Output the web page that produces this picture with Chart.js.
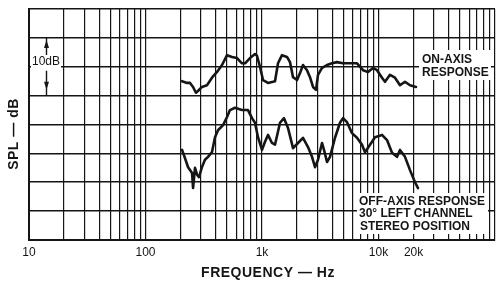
<!DOCTYPE html>
<html>
<head>
<meta charset="utf-8">
<script src="https://cdn.jsdelivr.net/npm/chart.js@4/dist/chart.umd.min.js"></script>
<style>
  html, body { margin: 0; padding: 0; background: #fff; }
  canvas { display: block; }
</style>
</head>
<body>
<canvas id="splChart" width="503" height="290"></canvas>
<script>
// levels in dB above the bottom gridline (5 dB per division, 8 divisions)
const onAxisFreq = [206, 227, 241, 256, 271, 282, 305, 337, 372, 411, 454, 501, 553, 610, 673, 715, 789, 871, 906, 961,
  1020, 1126, 1243, 1293, 1372, 1485, 1639, 1739, 1846, 1998, 2120, 2249, 2434, 2582, 2741, 2908, 3025, 3274, 3614, 3989,
  4404, 4959, 5693, 6538, 7362, 8126, 8970, 9707, 10716, 11370, 12550, 13855, 15295, 16883, 18637, 20983];
const onAxisDb = [27.5, 27.2, 27.2, 26.5, 25.5, 25.8, 26.5, 26.8, 28.1, 29.1, 30.3, 32.0, 31.7, 31.5, 30.6, 30.6, 31.5, 32.2, 31.9, 30.0,
  27.7, 27.2, 27.4, 27.5, 30.6, 32.0, 31.7, 30.8, 28.2, 27.7, 28.9, 30.3, 29.4, 28.2, 26.5, 26.0, 28.6, 29.8, 30.3, 30.6,
  30.8, 30.6, 30.6, 30.6, 29.4, 29.1, 29.8, 29.4, 28.1, 27.4, 28.6, 28.1, 26.8, 27.4, 26.8, 26.5];

const offAxisFreq = [206, 218, 232, 251, 256, 266, 277, 288, 305, 324, 344, 372, 395, 419, 463, 501, 531, 586, 673, 758,
  821, 871, 924, 1000, 1061, 1126, 1218, 1293, 1427, 1545, 1672, 1846, 2037, 2249, 2482, 2687, 2851, 3025, 3274, 3406,
  3614, 3835, 4233, 4672, 4959, 5365, 5922, 6538, 7219, 7659, 8453, 9333, 10716, 11833, 13062, 14418, 15295, 16883, 18637, 20573,
  21837];
const offAxisDb = [15.6, 14.2, 12.6, 11.6, 9.0, 12.5, 11.3, 10.9, 12.6, 13.9, 14.4, 15.2, 17.8, 19.0, 19.9, 21.3, 22.5, 22.9, 22.5, 22.5,
  21.1, 20.3, 17.8, 15.6, 17.0, 18.2, 16.8, 16.5, 20.3, 21.1, 19.4, 15.9, 16.8, 17.7, 16.1, 14.4, 12.6, 13.9, 16.8, 15.6,
  13.5, 14.4, 17.7, 20.3, 21.1, 20.4, 18.5, 17.7, 16.5, 15.2, 16.5, 17.8, 18.2, 17.3, 15.1, 14.4, 15.6, 14.4, 12.1, 10.0,
  9.0];

// log paper: lines at 1..9 x each decade, 10 Hz to 100 kHz
const decades = [10, 100, 1000, 10000];
const decadeSteps = [1, 2, 3, 4, 5, 6, 7, 8, 9];
const labelFreqs = [10, 100, 1000, 10000, 20000];
const labelTexts = ['10', '100', '1k', '10k', '20k'];

const gridFreqs = [];
decades.forEach(d => decadeSteps.forEach(s => gridFreqs.push(d * s)));
gridFreqs.push(100000);

function toPoints(xs, ys) {
  return xs.map((x, i) => ({ x: x, y: ys[i] }));
}

const INK = '#151515';

// labels, 10 dB marker and axis titles
const notesPlugin = {
  id: 'notes',
  beforeDatasetsDraw(chart) {
    const c = chart.ctx;
    c.save();
    c.fillStyle = '#fff';
    c.fillRect(31, 56, 30, 12);
    c.fillRect(419, 50, 72, 30);
    c.fillRect(357, 193, 131, 41);
    c.restore();
  },
  afterDraw(chart) {
    const c = chart.ctx;
    const xs = chart.scales.x, ys = chart.scales.y;
    c.save();
    c.fillStyle = INK;
    c.strokeStyle = INK;

    // 10 dB dimension arrow
    const ax = Math.round(xs.getPixelForValue(14)) + 0.5;
    const yTop = ys.getPixelForValue(35), yBot = ys.getPixelForValue(25);
    c.lineWidth = 1.4;
    c.beginPath();
    c.moveTo(ax, yTop); c.lineTo(ax, yTop + 17);
    c.moveTo(ax, yBot - 25); c.lineTo(ax, yBot);
    c.stroke();
    c.beginPath();
    c.moveTo(ax, yTop + 2); c.lineTo(ax - 2.5, yTop + 10); c.lineTo(ax + 2.5, yTop + 10); c.closePath();
    c.moveTo(ax, yBot - 6); c.lineTo(ax - 2.5, yBot - 14); c.lineTo(ax + 2.5, yBot - 14); c.closePath();
    c.fill();

    c.font = '12px "Liberation Sans", Arial, sans-serif';
    c.textAlign = 'center';
    c.textBaseline = 'middle';
    c.fillText('10dB', 46, 62);

    c.font = 'bold 12px "Liberation Sans", Arial, sans-serif';
    c.textAlign = 'left';
    c.fillText('ON-AXIS', 422, 60);
    c.fillText('RESPONSE', 422, 73);
    c.fillText('OFF-AXIS RESPONSE', 359, 202);
    c.fillText('30° LEFT CHANNEL', 359, 214);
    c.fillText('STEREO POSITION', 360, 226.5);

    c.font = 'bold 14px "Liberation Sans", Arial, sans-serif';
    c.textAlign = 'center';
    c.letterSpacing = '0.5px';
    c.fillText('FREQUENCY — Hz', 268, 273);
    c.translate(14, 134);
    c.rotate(-Math.PI / 2);
    c.fillText('SPL — dB', 0, 0);
    c.restore();
  }
};

const chart = new Chart(document.getElementById('splChart'), {
  type: 'scatter',
  data: {
    datasets: [
      { label: 'On-axis response', data: toPoints(onAxisFreq, onAxisDb) },
      { label: 'Off-axis response, 30° left channel', data: toPoints(offAxisFreq, offAxisDb) }
    ].map(ds => Object.assign(ds, {
      showLine: true,
      borderColor: INK,
      borderWidth: 2.6,
      borderJoinStyle: 'round',
      borderCapStyle: 'round',
      pointRadius: 0,
      tension: 0
    }))
  },
  options: {
    responsive: false,
    animation: false,
    layout: { padding: { left: 0, top: 9, right: 8, bottom: 0 } },
    plugins: { legend: { display: false }, tooltip: { enabled: false } },
    scales: {
      x: {
        type: 'logarithmic',
        min: 10,
        max: 100000,
        afterBuildTicks: axis => { axis.ticks = gridFreqs.map(v => ({ value: v })); },
        afterFit: axis => { axis.height = 50; },
        grid: { color: INK, lineWidth: 1.2, drawTicks: false },
        border: { color: INK, width: 2 },
        ticks: {
          autoSkip: false,
          maxRotation: 0,
          padding: 5,
          color: INK,
          font: { family: '"Liberation Sans", Arial, sans-serif', size: 12 },
          callback: v => {
            const i = labelFreqs.indexOf(v);
            return i >= 0 ? labelTexts[i] : '';
          }
        }
      },
      y: {
        min: 0,
        max: 40,
        afterFit: axis => { axis.width = 29; },
        grid: { color: INK, lineWidth: 1.6, drawTicks: false },
        border: { color: INK, width: 2 },
        ticks: { stepSize: 5, display: false }
      }
    }
  },
  plugins: [notesPlugin]
});
</script>
</body>
</html>
